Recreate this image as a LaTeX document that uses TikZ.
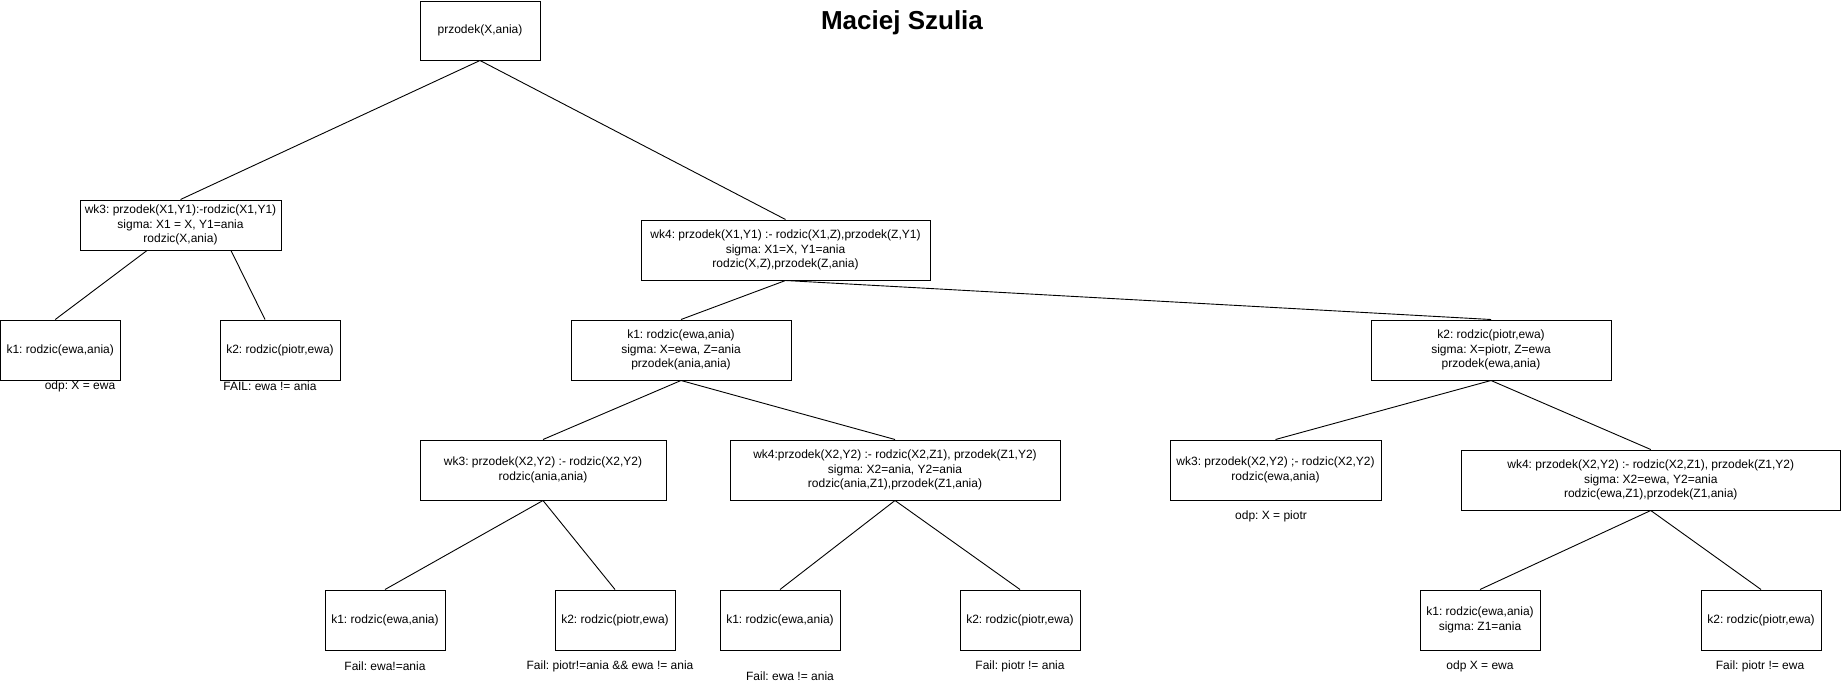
\documentclass[tikz,border=0pt]{standalone}
\usepackage{fontspec}
\setmainfont{Liberation Sans}
\frenchspacing
\begin{document}
\frenchspacing
\begin{tikzpicture}[x=1pt,y=-1pt,
  box/.style={draw=black,line width=1pt,rectangle,align=center,inner sep=2pt,minimum height=60pt,font=\fontsize{12}{14.5}\selectfont},
  lbl/.style={inner sep=0pt,align=center,font=\fontsize{12}{14.5}\selectfont},
  edge/.style={draw=black,line width=0.9pt},
  titlestyle/.style={inner sep=0pt,anchor=base,font=\fontsize{26}{30}\selectfont\bfseries}]
\useasboundingbox (0,0) rectangle (1841,691);

\node[titlestyle] (title) at (902,29) {Maciej Szulia};

% level 0
\node[box,minimum width=120pt,minimum height=59pt] (root) at (480,30.5) {przodek(X,ania)};

% level 1
\node[box,minimum width=201pt,minimum height=50pt] (wkA) at (180.5,225) {wk3: przodek(X1,Y1):-rodzic(X1,Y1)\\sigma: X1 = X, Y1=ania\\rodzic(X,ania)};
\node[box,minimum width=289pt] (wkB) at (785.5,250) {wk4: przodek(X1,Y1) :- rodzic(X1,Z),przodek(Z,Y1)\\sigma: X1=X, Y1=ania\\rodzic(X,Z),przodek(Z,ania)};

% level 2
\node[box,minimum width=119.5pt] (kA1) at (60.25,350) {k1: rodzic(ewa,ania)};
\node[box,minimum width=120pt] (kA2) at (280,350) {k2: rodzic(piotr,ewa)};
\node[box,minimum width=220pt] (kB1) at (681,350) {k1: rodzic(ewa,ania)\\sigma: X=ewa, Z=ania\\przodek(ania,ania)};
\node[box,minimum width=240pt] (kB2) at (1491,350) {k2: rodzic(piotr,ewa)\\sigma: X=piotr, Z=ewa\\przodek(ewa,ania)};

\node[lbl] (lA1) at (80,386) {odp: X = ewa};
\node[lbl] (lA2) at (270,386) {FAIL: ewa != ania};

% level 3
\node[box,minimum width=246pt] (wkC) at (543,470) {wk3: przodek(X2,Y2) :- rodzic(X2,Y2)\\rodzic(ania,ania)};
\node[box,minimum width=330pt] (wkD) at (895,470) {wk4:przodek(X2,Y2) :- rodzic(X2,Z1), przodek(Z1,Y2)\\sigma: X2=ania, Y2=ania\\rodzic(ania,Z1),przodek(Z1,ania)};
\node[box,minimum width=211pt] (wkE) at (1275.5,470) {wk3: przodek(X2,Y2) ;- rodzic(X2,Y2)\\rodzic(ewa,ania)};
\node[box,minimum width=379.5pt] (wkF) at (1650.75,480) {wk4: przodek(X2,Y2) :- rodzic(X2,Z1), przodek(Z1,Y2)\\sigma: X2=ewa, Y2=ania\\rodzic(ewa,Z1),przodek(Z1,ania)};

\node[lbl] (lE) at (1271,516) {odp: X = piotr};

% level 4
\node[box,minimum width=120pt] (kC1) at (385,620) {k1: rodzic(ewa,ania)};
\node[box,minimum width=120pt] (kC2) at (615,620) {k2: rodzic(piotr,ewa)};
\node[box,minimum width=120pt] (kD1) at (780,620) {k1: rodzic(ewa,ania)};
\node[box,minimum width=120pt] (kD2) at (1020,620) {k2: rodzic(piotr,ewa)};
\node[box,minimum width=120pt] (kF1) at (1480,620) {k1: rodzic(ewa,ania)\\sigma: Z1=ania};
\node[box,minimum width=120pt] (kF2) at (1761,620) {k2: rodzic(piotr,ewa)};

\node[lbl] (lC1) at (385,666) {Fail: ewa!=ania};
\node[lbl] (lC2) at (610,666) {Fail: piotr!=ania \&\& ewa != ania};
\node[lbl] (lD1) at (790,676) {Fail: ewa != ania};
\node[lbl] (lD2) at (1020,666) {Fail: piotr != ania};
\node[lbl] (lF1) at (1480,666) {odp X = ewa};
\node[lbl] (lF2) at (1760,666) {Fail: piotr != ewa};

% edges
\draw[edge] (root.south) -- (wkA.north);
\draw[edge] (root.south) -- (wkB.north);
\draw[edge] ([xshift=-33.5pt]wkA.south) -- ([xshift=-5pt]kA1.north);
\draw[edge] ([xshift=50.5pt]wkA.south) -- ([xshift=-15pt]kA2.north);
\draw[edge] (wkB.south) -- (kB1.north);
\draw[edge] (wkB.south) -- (kB2.north);
\draw[edge] (kB1.south) -- (wkC.north);
\draw[edge] (kB1.south) -- (wkD.north);
\draw[edge] (kB2.south) -- (wkE.north);
\draw[edge] (kB2.south) -- (wkF.north);
\draw[edge] (wkC.south) -- (kC1.north);
\draw[edge] (wkC.south) -- (kC2.north);
\draw[edge] (wkD.south) -- (kD1.north);
\draw[edge] (wkD.south) -- (kD2.north);
\draw[edge] (wkF.south) -- (kF1.north);
\draw[edge] (wkF.south) -- (kF2.north);
\end{tikzpicture}
\end{document}
